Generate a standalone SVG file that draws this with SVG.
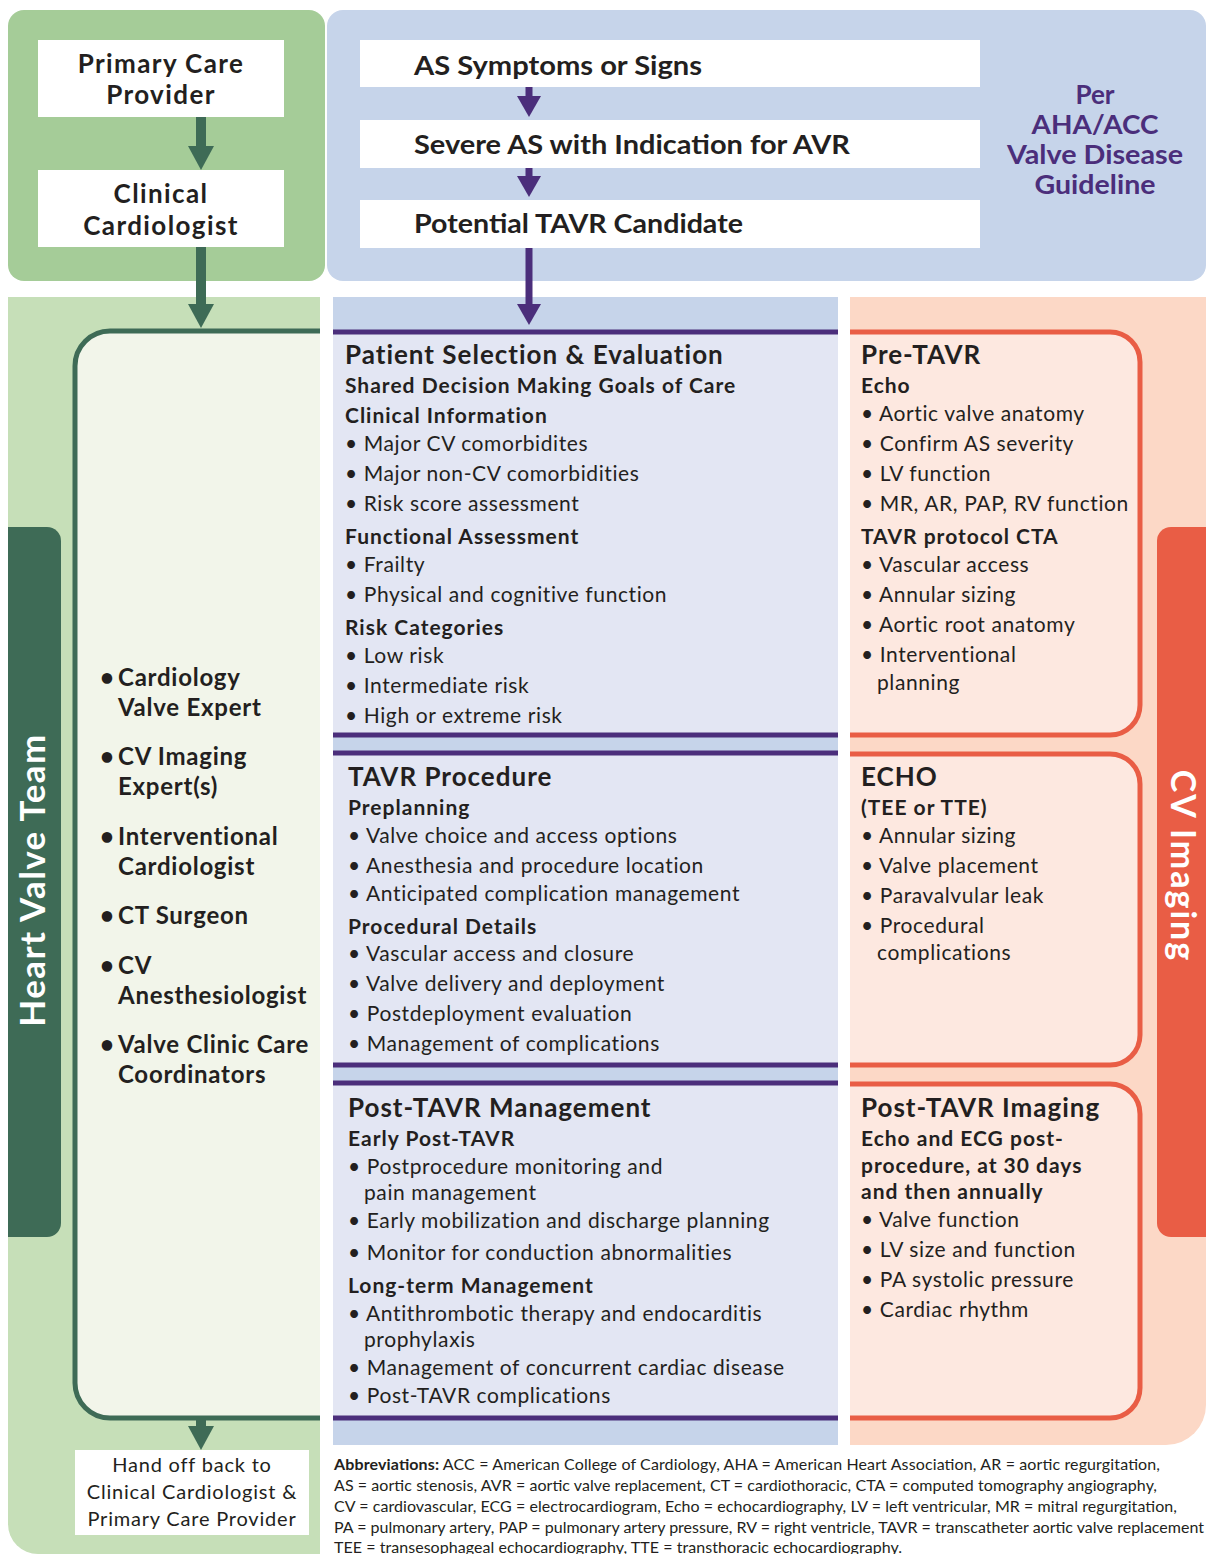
<svg xmlns="http://www.w3.org/2000/svg" width="1206" height="1554" viewBox="0 0 1206 1554">
<style>
text{font-family:Lato,"Noto Sans","Liberation Sans",sans-serif;fill:#231f20}
.b{font-weight:700}
.h{font-size:26px;font-weight:700;letter-spacing:1px}
.s{font-size:21px;font-weight:700;letter-spacing:1px}
.t{font-size:21px;letter-spacing:0.6px}
.ho{font-size:20px;letter-spacing:0.8px}
.lb{font-size:24px;font-weight:700;letter-spacing:0.75px}
.top{font-size:26px;font-weight:700;letter-spacing:1.4px}
.tb{font-size:26px;font-weight:700}
.pur{fill:#4b2e7b;font-size:26px;font-weight:700}
.ab{font-size:16px}
.pline{stroke:#4b2e7b;stroke-width:5}
.obox{fill:#fde8e0;stroke:#e95d45;stroke-width:5}
.gline{stroke:#3e6b56;stroke-width:10}
.vline{stroke:#4b2e7b;stroke-width:7}
</style>
<defs>
<marker id="ahg" markerUnits="userSpaceOnUse" markerWidth="26" markerHeight="28" refX="14" refY="13" orient="auto" viewBox="0 0 26 28">
<path d="M0,0 L24,13 L0,26 Z" fill="#3e6b56"/>
</marker>
<marker id="ahp" markerUnits="userSpaceOnUse" markerWidth="24" markerHeight="26" refX="12" refY="12" orient="auto" viewBox="0 0 24 26">
<path d="M0,0 L21,12 L0,24 Z" fill="#4b2e7b"/>
</marker>
</defs>
<rect width="1206" height="1554" fill="#ffffff"/>
<g id="backgrounds">
<rect x="8" y="10" width="317" height="271" rx="16" fill="#a5cc98"/>
<rect x="327" y="10" width="879" height="271" rx="16" fill="#c6d4ea"/>
<path d="M8,297 H320 V1554 H38 A30,30 0 0 1 8,1524 Z" fill="#c6dfb8"/>
<rect x="333" y="297" width="505" height="1148" fill="#c6d4ea"/>
<path d="M850,297 H1206 V1405 A40,40 0 0 1 1166,1445 H850 Z" fill="#fcd8c6"/>
</g>
<g id="heart-valve-team">
<path d="M320,331 H110 A35,35 0 0 0 75,366 V1383 A35,35 0 0 0 110,1418 H320" fill="#f2f5ea" stroke="#3e6b56" stroke-width="5"/>
<path d="M8,527 H47 A14,14 0 0 1 61,541 V1223 A14,14 0 0 1 47,1237 H8 Z" fill="#3e6b56"/>
<text x="33" y="880" transform="rotate(-90 33 880)" text-anchor="middle" dy="12" style="font-size:35px;font-weight:700;letter-spacing:1.4px;fill:#ffffff">Heart Valve Team</text>
<g class="lb">
<text x="100" y="686">•</text><text x="118" y="686">Cardiology</text><text x="118" y="716">Valve Expert</text>
<text x="100" y="765">•</text><text x="118" y="765">CV Imaging</text><text x="118" y="795">Expert(s)</text>
<text x="100" y="845">•</text><text x="118" y="845">Interventional</text><text x="118" y="875">Cardiologist</text>
<text x="100" y="924">•</text><text x="118" y="924">CT Surgeon</text>
<text x="100" y="974">•</text><text x="118" y="974">CV</text><text x="118" y="1004">Anesthesiologist</text>
<text x="100" y="1053">•</text><text x="118" y="1053">Valve Clinic Care</text><text x="118" y="1083">Coordinators</text>
</g>
</g>
<g id="primary-care">
<rect x="38" y="40" width="246" height="77" fill="#ffffff"/>
<text x="161" y="73" class="top" text-anchor="middle">Primary Care</text>
<text x="161" y="104" class="top" text-anchor="middle">Provider</text>
</g>
<g id="clinical-cardiologist">
<rect x="38" y="170" width="246" height="77" fill="#ffffff"/>
<text x="161" y="203" class="top" text-anchor="middle">Clinical</text>
<text x="161" y="235" class="top" text-anchor="middle">Cardiologist</text>
</g>
<g id="as-symptoms">
<rect x="360" y="40" width="620" height="47" fill="#ffffff"/>
<text x="414" y="75" class="tb" textLength="288" lengthAdjust="spacingAndGlyphs">AS Symptoms or Signs</text>
</g>
<g id="severe-as">
<rect x="360" y="120" width="620" height="48" fill="#ffffff"/>
<text x="414" y="154" class="tb" textLength="436" lengthAdjust="spacingAndGlyphs">Severe AS with Indication for AVR</text>
</g>
<g id="potential-tavr">
<rect x="360" y="200" width="620" height="48" fill="#ffffff"/>
<text x="414" y="233" class="tb" textLength="329" lengthAdjust="spacingAndGlyphs">Potential TAVR Candidate</text>
</g>
<g id="guideline-label">
<text x="1095" y="104" class="pur" text-anchor="middle">Per</text>
<text x="1095" y="134" class="pur" text-anchor="middle" textLength="127" lengthAdjust="spacingAndGlyphs">AHA/ACC</text>
<text x="1095" y="164" class="pur" text-anchor="middle" textLength="176" lengthAdjust="spacingAndGlyphs">Valve Disease</text>
<text x="1095" y="194" class="pur" text-anchor="middle" textLength="121" lengthAdjust="spacingAndGlyphs">Guideline</text>
</g>
<g id="patient-selection">
<rect x="333" y="332" width="505" height="403" fill="#e3e6f3"/>
<line x1="333" y1="332" x2="838" y2="332" class="pline"/>
<line x1="333" y1="735" x2="838" y2="735" class="pline"/>
<text x="345" y="364" class="h">Patient Selection &amp; Evaluation</text>
<text x="345" y="393" class="s">Shared Decision Making Goals of Care</text>
<text x="345" y="423" class="s">Clinical Information</text>
<text x="345" y="451" class="t">• Major CV comorbidites</text>
<text x="345" y="481" class="t">• Major non-CV comorbidities</text>
<text x="345" y="511" class="t">• Risk score assessment</text>
<text x="345" y="544" class="s">Functional Assessment</text>
<text x="345" y="572" class="t">• Frailty</text>
<text x="345" y="602" class="t">• Physical and cognitive function</text>
<text x="345" y="635" class="s">Risk Categories</text>
<text x="345" y="663" class="t">• Low risk</text>
<text x="345" y="693" class="t">• Intermediate risk</text>
<text x="345" y="723" class="t">• High or extreme risk</text>
</g>
<g id="tavr-procedure">
<rect x="333" y="753" width="505" height="312" fill="#e3e6f3"/>
<line x1="333" y1="753" x2="838" y2="753" class="pline"/>
<line x1="333" y1="1065" x2="838" y2="1065" class="pline"/>
<text x="348" y="786" class="h">TAVR Procedure</text>
<text x="348" y="815" class="s">Preplanning</text>
<text x="348" y="843" class="t">• Valve choice and access options</text>
<text x="348" y="873" class="t">• Anesthesia and procedure location</text>
<text x="348" y="901" class="t">• Anticipated complication management</text>
<text x="348" y="934" class="s">Procedural Details</text>
<text x="348" y="961" class="t">• Vascular access and closure</text>
<text x="348" y="991" class="t">• Valve delivery and deployment</text>
<text x="348" y="1021" class="t">• Postdeployment evaluation</text>
<text x="348" y="1051" class="t">• Management of complications</text>
</g>
<g id="post-tavr-management">
<rect x="333" y="1083" width="505" height="335" fill="#e3e6f3"/>
<line x1="333" y1="1083" x2="838" y2="1083" class="pline"/>
<line x1="333" y1="1418" x2="838" y2="1418" class="pline"/>
<text x="348" y="1117" class="h">Post-TAVR Management</text>
<text x="348" y="1146" class="s">Early Post-TAVR</text>
<text x="348" y="1174" class="t">• Postprocedure monitoring and</text>
<text x="364" y="1200" class="t">pain management</text>
<text x="348" y="1228" class="t">• Early mobilization and discharge planning</text>
<text x="348" y="1260" class="t">• Monitor for conduction abnormalities</text>
<text x="348" y="1293" class="s">Long-term Management</text>
<text x="348" y="1321" class="t">• Antithrombotic therapy and endocarditis</text>
<text x="364" y="1347" class="t">prophylaxis</text>
<text x="348" y="1375" class="t">• Management of concurrent cardiac disease</text>
<text x="348" y="1403" class="t">• Post-TAVR complications</text>
</g>
<g id="pre-tavr">
<path d="M850,332 H1110 A30,30 0 0 1 1140,362 V705 A30,30 0 0 1 1110,735 H850" class="obox"/>
<text x="861" y="364" class="h">Pre-TAVR</text>
<text x="861" y="393" class="s">Echo</text>
<text x="861" y="421" class="t">• Aortic valve anatomy</text>
<text x="861" y="451" class="t">• Confirm AS severity</text>
<text x="861" y="481" class="t">• LV function</text>
<text x="861" y="511" class="t">• MR, AR, PAP, RV function</text>
<text x="861" y="544" class="s">TAVR protocol CTA</text>
<text x="861" y="572" class="t">• Vascular access</text>
<text x="861" y="602" class="t">• Annular sizing</text>
<text x="861" y="632" class="t">• Aortic root anatomy</text>
<text x="861" y="662" class="t">• Interventional</text>
<text x="877" y="690" class="t">planning</text>
</g>
<g id="echo">
<path d="M850,754 H1110 A30,30 0 0 1 1140,784 V1035 A30,30 0 0 1 1110,1065 H850" class="obox"/>
<text x="861" y="786" class="h">ECHO</text>
<text x="861" y="815" class="s">(TEE or TTE)</text>
<text x="861" y="843" class="t">• Annular sizing</text>
<text x="861" y="873" class="t">• Valve placement</text>
<text x="861" y="903" class="t">• Paravalvular leak</text>
<text x="861" y="933" class="t">• Procedural</text>
<text x="877" y="960" class="t">complications</text>
</g>
<g id="post-tavr-imaging">
<path d="M850,1084 H1110 A30,30 0 0 1 1140,1114 V1388 A30,30 0 0 1 1110,1418 H850" class="obox"/>
<text x="861" y="1117" class="h">Post-TAVR Imaging</text>
<text x="861" y="1146" class="s">Echo and ECG post-</text>
<text x="861" y="1173" class="s">procedure, at 30 days</text>
<text x="861" y="1199" class="s">and then annually</text>
<text x="861" y="1227" class="t">• Valve function</text>
<text x="861" y="1257" class="t">• LV size and function</text>
<text x="861" y="1287" class="t">• PA systolic pressure</text>
<text x="861" y="1317" class="t">• Cardiac rhythm</text>
</g>
<g id="cv-imaging">
<path d="M1206,527 H1171 A14,14 0 0 0 1157,541 V1223 A14,14 0 0 0 1171,1237 H1206 Z" fill="#e95d45"/>
<text x="1182" y="866" transform="rotate(90 1182 866)" text-anchor="middle" dy="11" style="font-size:34px;font-weight:700;letter-spacing:2px;fill:#ffffff">CV Imaging</text>
</g>
<g id="hand-off">
<rect x="75" y="1450" width="234" height="85" fill="#ffffff"/>
<text x="192" y="1472" class="ho" text-anchor="middle">Hand off back to</text>
<text x="192" y="1499" class="ho" text-anchor="middle">Clinical Cardiologist &amp;</text>
<text x="192" y="1526" class="ho" text-anchor="middle">Primary Care Provider</text>
</g>
<g id="connectors">
<line x1="201" y1="117" x2="201" y2="160" class="gline" marker-end="url(#ahg)"/>
<line x1="201" y1="247" x2="201" y2="318" class="gline" marker-end="url(#ahg)"/>
<line x1="201" y1="1420" x2="201" y2="1440" class="gline" marker-end="url(#ahg)"/>
<line x1="529" y1="87" x2="529" y2="108" class="vline" marker-end="url(#ahp)"/>
<line x1="529" y1="168" x2="529" y2="188" class="vline" marker-end="url(#ahp)"/>
<line x1="529" y1="248" x2="529" y2="316" class="vline" marker-end="url(#ahp)"/>
</g>
<g id="abbreviations">
<text x="334" y="1470" class="ab" textLength="826" lengthAdjust="spacing"><tspan class="b">Abbreviations:</tspan> ACC = American College of Cardiology, AHA = American Heart Association, AR = aortic regurgitation,</text>
<text x="334" y="1491" class="ab" textLength="823" lengthAdjust="spacing">AS = aortic stenosis, AVR = aortic valve replacement, CT = cardiothoracic, CTA = computed tomography angiography,</text>
<text x="334" y="1512" class="ab" textLength="843" lengthAdjust="spacing">CV = cardiovascular, ECG = electrocardiogram, Echo = echocardiography, LV = left ventricular, MR = mitral regurgitation,</text>
<text x="334" y="1533" class="ab" textLength="870" lengthAdjust="spacing">PA = pulmonary artery, PAP = pulmonary artery pressure, RV = right ventricle, TAVR = transcatheter aortic valve replacement</text>
<text x="334" y="1553" class="ab" textLength="568" lengthAdjust="spacing">TEE = transesophageal echocardiography, TTE = transthoracic echocardiography.</text>
</g>
</svg>
